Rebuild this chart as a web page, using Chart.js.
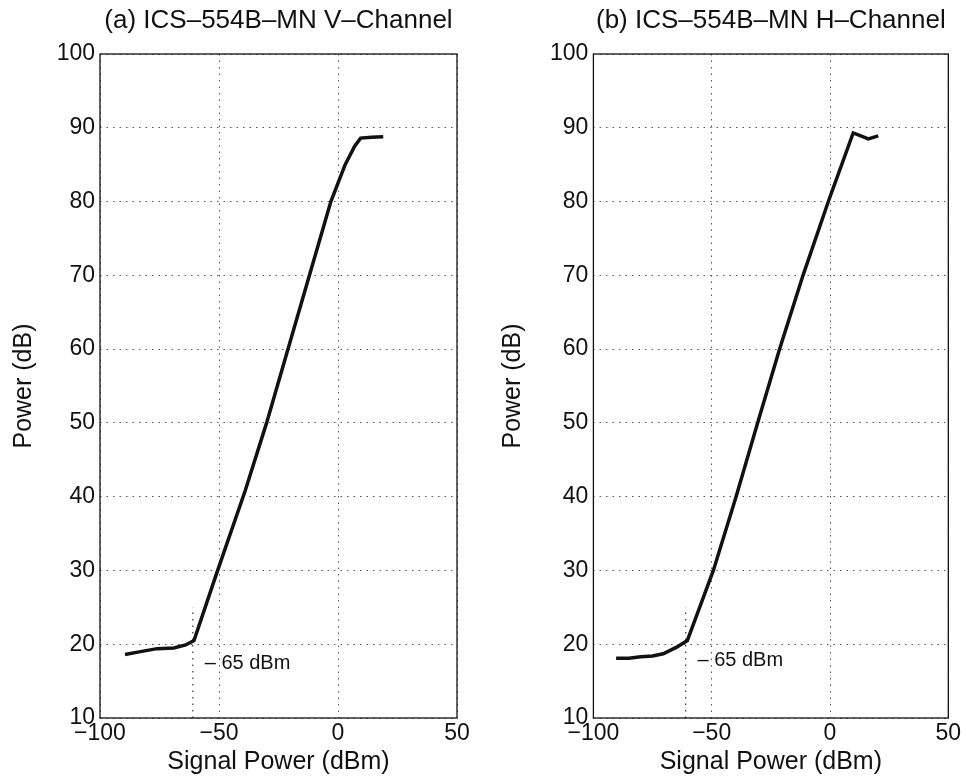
<!DOCTYPE html>
<html>
<head>
<meta charset="utf-8">
<script src="https://cdn.jsdelivr.net/npm/chart.js@4/dist/chart.umd.min.js"></script>
<style>
  body { margin: 0; background: #fff; }
  .panel { position: absolute; top: 0; width: 483px; height: 783px; }
</style>
</head>
<body>
<div class="panel" style="left:0"><canvas id="chartV" width="483" height="783"></canvas></div>
<div class="panel" style="left:483px"><canvas id="chartH" width="483" height="783"></canvas></div>
<script>
// V-channel curve
const sigV = [-89.5, -83, -76, -69, -64, -60.5, -51, -39, -30, -21, -12, -3, 3, 7, 9.5, 14, 19];
const powV = [18.6, 19.0, 19.4, 19.5, 19.9, 20.5, 29.6, 40.8, 50, 60, 70, 80, 85, 87.5, 88.6, 88.7, 88.8];

// H-channel curve
const sigH = [-90.4, -85, -80, -75, -70.5, -64.8, -60.3, -49.3, -39.7, -30.6, -21.3, -11.4, -0.7, 9.8, 13, 16.2, 20.4];
const powH = [18.1, 18.1, 18.3, 18.4, 18.7, 19.6, 20.5, 30, 40, 50, 60, 70, 80, 89.3, 88.9, 88.5, 88.9];

// threshold marker and its label
const kneeX = [-61, -61];
const kneeY = [10, 25];
const noteText = "\u2013 65 dBm";
const noteAt = { V: [-56, 17.4], H: [-56, 17.8] };

const xRange = [-100, 50];
const yRange = [10, 100];

Chart.defaults.font.family = "'Liberation Sans', Arial, Helvetica, sans-serif";
Chart.defaults.color = "#111";

const minus = (v) => String(v).replace("-", "\u2212");

// box round the plot area, like the matlab axes
const framePlugin = {
  id: "frame",
  afterDraw(chart) {
    const { ctx, chartArea: a } = chart;
    ctx.save();
    ctx.strokeStyle = "#111";
    ctx.lineWidth = 1.3;
    ctx.strokeRect(a.left, a.top, a.right - a.left, a.bottom - a.top);
    ctx.restore();
  },
};

const notePlugin = {
  id: "note",
  afterDatasetsDraw(chart, args, opts) {
    const { ctx, scales } = chart;
    ctx.save();
    ctx.font = "20px 'Liberation Sans', Arial, sans-serif";
    ctx.fillStyle = "#111";
    ctx.textAlign = "left";
    ctx.textBaseline = "middle";
    ctx.fillText(opts.text, scales.x.getPixelForValue(opts.at[0]), scales.y.getPixelForValue(opts.at[1]));
    ctx.restore();
  },
};

function makeChart(id, title, sig, pow, note, pad) {
  const gridDash = { display: false, dash: [1.5, 5] };
  return new Chart(document.getElementById(id), {
    type: "line",
    data: {
      datasets: [
        {
          data: sig.map((x, i) => ({ x, y: pow[i] })),
          borderColor: "#111",
          borderWidth: 3.5,
          pointRadius: 0,
          tension: 0,
        },
        {
          data: kneeX.map((x, i) => ({ x, y: kneeY[i] })),
          borderColor: "#333",
          borderWidth: 1.2,
          borderDash: [1.5, 5],
          pointRadius: 0,
        },
      ],
    },
    options: {
      responsive: false,
      animation: false,
      layout: { padding: { left: 0, right: pad.right, top: 0, bottom: 0 } },
      plugins: {
        legend: { display: false },
        tooltip: { enabled: false },
        title: {
          display: true,
          fullSize: false,
          text: title,
          color: "#111",
          font: { size: 26, weight: "normal" },
          padding: { top: 5.4, bottom: 17.4 },
        },
        note: { text: noteText, at: note },
      },
      scales: {
        x: {
          type: "linear",
          min: xRange[0],
          max: xRange[1],
          afterFit: (s) => { s.height = 65; },
          ticks: { stepSize: 50, padding: 2, font: { size: 23 }, color: "#111", callback: minus },
          grid: { color: "#555", lineWidth: 1, drawTicks: false },
          border: gridDash,
          title: { display: true, text: "Signal Power (dBm)", font: { size: 25 }, color: "#111", padding: { top: 0, bottom: 6 } },
        },
        y: {
          type: "linear",
          min: yRange[0],
          max: yRange[1],
          afterFit: (s) => { s.width = pad.axis; },
          ticks: { stepSize: 10, padding: 5, font: { size: 23 }, color: "#111", callback: minus },
          grid: { color: "#555", lineWidth: 1, drawTicks: false },
          border: gridDash,
          title: { display: true, text: "Power (dB)", font: { size: 25 }, color: "#111", padding: { top: pad.ytitle, bottom: 0 } },
        },
      },
    },
    plugins: [framePlugin, notePlugin],
  });
}

makeChart("chartV", "(a) ICS\u2013554B\u2013MN V\u2013Channel", sigV, powV, noteAt.V, { right: 26, axis: 100, ytitle: 9 });
makeChart("chartH", "(b) ICS\u2013554B\u2013MN H\u2013Channel", sigH, powH, noteAt.H, { right: 17.7, axis: 110.4, ytitle: 15 });
</script>
</body>
</html>
